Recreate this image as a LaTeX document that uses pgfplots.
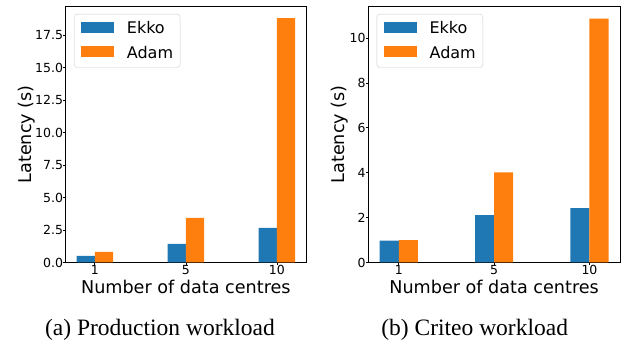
\documentclass[border=0pt]{standalone}
\usepackage{fontspec}
\setmainfont{DejaVu Sans}
\newfontfamily\capfont{Liberation Serif}
\usepackage{pgfplots}
\pgfplotsset{compat=1.18}
\definecolor{cblue}{HTML}{1F77B4}
\definecolor{corange}{HTML}{FF7F0E}
\pgfplotsset{
  myax/.style={
    scale only axis,
    axis line style={line width=0.7pt},
    xmin=-0.32, xmax=2.32, ymin=0,
    xtick={0,1,2}, xticklabels={1,5,10},
    tick align=outside, major tick length=2.5pt,
    tick style={black, line width=0.7pt},
    xtick pos=bottom, ytick pos=left,
    /pgf/number format/assume math mode=true,
    tick label style={font=\fontsize{12.5}{14}\selectfont, inner sep=0pt},
    label style={font=\fontsize{17.6}{20}\selectfont},
    xlabel={Number of data centres}, ylabel={Latency (s)},
    legend cell align=left,
    legend style={anchor=north west, draw=black!20, rounded corners=3pt,
      inner xsep=7pt, inner ysep=7.5pt, row sep=11.1pt,
      font=\fontsize{16}{19}\selectfont,
      nodes={inner sep=0pt, text height=12.3pt, text depth=1.3pt},
      /tikz/every odd column/.append style={column sep=12.7pt}},
    legend image code/.code={\fill[#1,draw=none,sharp corners] (0pt,-4.2pt) rectangle (33pt,6.8pt);},
  },
  ekko/.style={ybar, bar width=0.2, bar shift=-0.1, fill=cblue, draw=none},
  adam/.style={ybar, bar width=0.2, bar shift=0.1, fill=corange, draw=none},
}
\begin{document}
\begin{tikzpicture}[x=1pt,y=1pt]
\path[use as bounding box] (0,0) rectangle (622,344);
\begin{axis}[myax,
  at={(65.7pt,81.5pt)}, anchor=south west,
  width=240.3pt, height=256.2pt,
  ymax=19.73, ytick={0,2.5,5,7.5,10,12.5,15,17.5},
  yticklabel style={/pgf/number format/.cd, fixed, fixed zerofill, precision=1},
  legend style={at={(0.0345,0.970)}},
  xlabel style={at={(axis description cs:0.5,-0.1194)}, anchor=base},
  ylabel style={at={(axis description cs:-0.1415,0.5)}, anchor=base},
]
\addplot[ekko] coordinates {(0,0.51) (1,1.43) (2,2.66)};
\addlegendentry{Ekko}
\addplot[adam] coordinates {(0,0.82) (1,3.43) (2,18.81)};
\addlegendentry{Adam}
\end{axis}
\begin{axis}[myax,
  at={(368.3pt,81.5pt)}, anchor=south west,
  width=251.7pt, height=256.2pt,
  ymax=11.41, ytick={0,2,4,6,8,10},
  legend style={at={(0.0334,0.970)}},
  xlabel style={at={(axis description cs:0.5,-0.1194)}, anchor=base},
  ylabel style={at={(axis description cs:-0.0954,0.5)}, anchor=base},
]
\addplot[ekko] coordinates {(0,0.97) (1,2.11) (2,2.42)};
\addlegendentry{Ekko}
\addplot[adam] coordinates {(0,1.00) (1,4.01) (2,10.86)};
\addlegendentry{Adam}
\end{axis}
\node[anchor=base, font=\capfont\fontsize{23.5}{26}\selectfont, inner sep=0pt] at (160,8) {(a) Production workload};
\node[anchor=base, font=\capfont\fontsize{23.5}{26}\selectfont, inner sep=0pt] at (474.7,8) {(b) Criteo workload};
\end{tikzpicture}
\end{document}
